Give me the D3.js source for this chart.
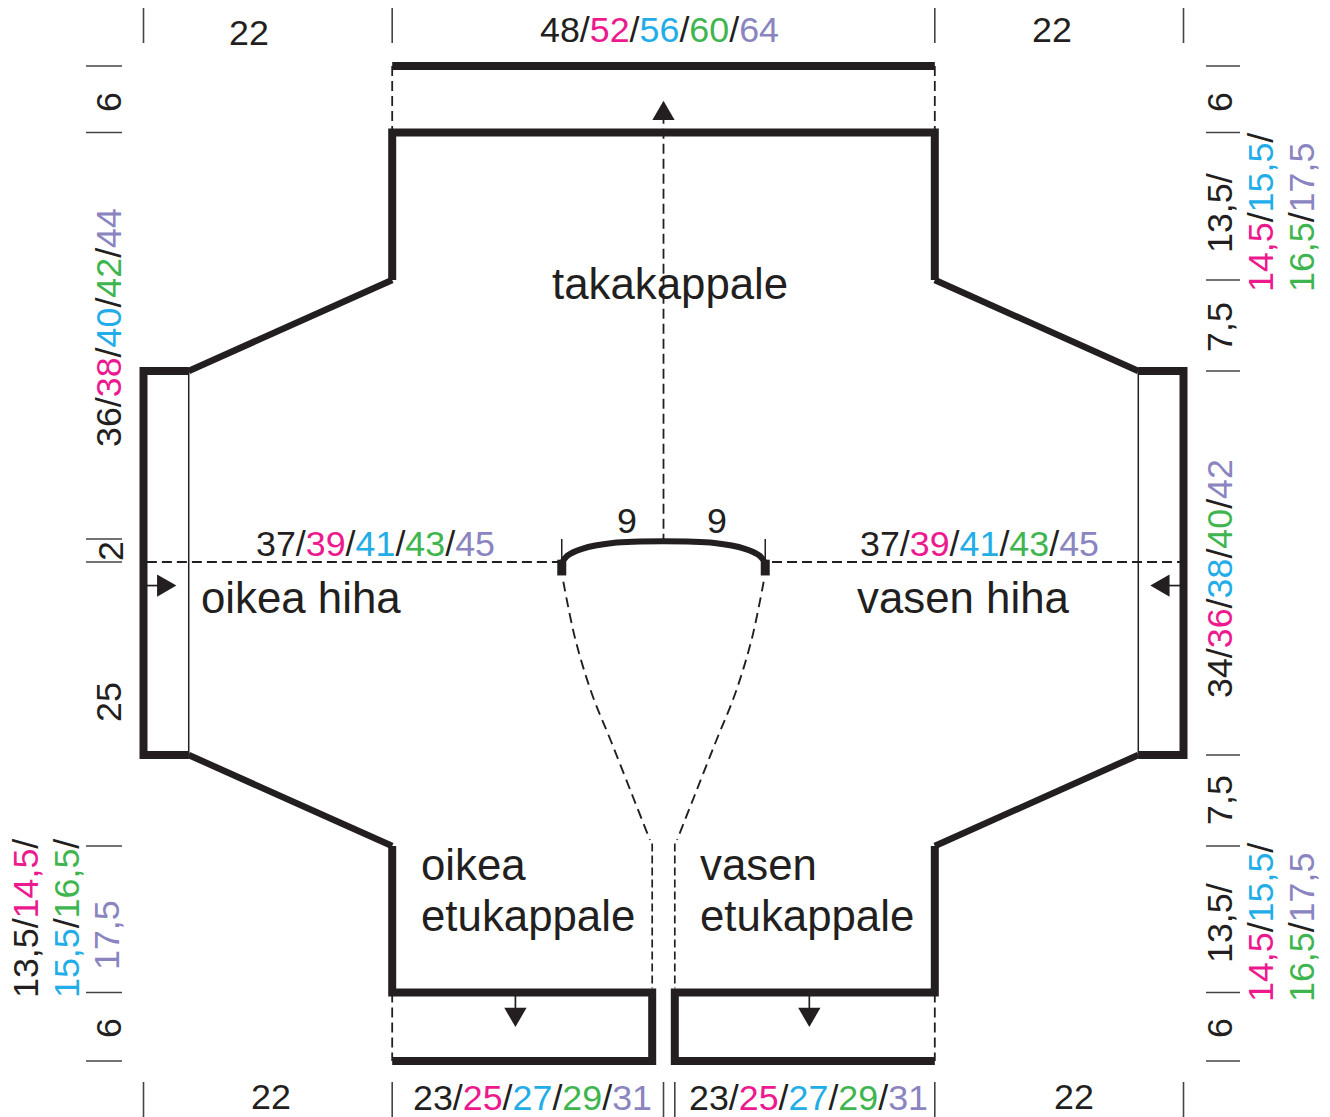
<html>
<head>
  <meta charset="utf-8">
  <script src="https://d3js.org/d3.v7.min.js"></script>
  <style>
    body { margin: 0; background: #fff; }
    text { font-family: "Liberation Sans", Arial, sans-serif; }
  </style>
</head>
<body>
<script>
// measurements in cm, one value per size
const sizeColors = ["#231f20", "#ec1a8e", "#22ade8", "#3fb54f", "#8a84c0"];
const hemWidth = ["48", "52", "56", "60", "64"];
const frontWidth = ["23", "25", "27", "29", "31"];
const sleeveLength = ["37", "39", "41", "43", "45"];
const rightSideLength = ["36", "38", "40", "42", "44"];
const leftSideLength = ["34", "36", "38", "40", "42"];
const armhole = ["13,5", "14,5", "15,5", "16,5", "17,5"];

// pattern outline, [cm across, cm down]
const backBand = [[22, 0], [70, 0]];
const backBody = [[22, 19.5], [22, 6], [70, 6], [70, 19.5]];
const leftCuff = [[4, 27], [0, 27], [0, 61], [4, 61]];
const rightCuff = [[88, 27], [92, 27], [92, 61], [88, 61]];
const leftFront = [[22, 68.5], [22, 82], [45, 82], [45, 88], [22, 88]];
const rightFront = [[70, 68.5], [70, 82], [47, 82], [47, 88], [70, 88]];
const slopes = [
  [[22, 19.5], [4, 27]], [[70, 19.5], [88, 27]],
  [[22, 68.5], [4, 61]], [[70, 68.5], [88, 61]]
];
const cuffSeams = [[[4, 27], [4, 61]], [[88, 27], [88, 61]]];
const neckCurve = [[37, 43.9], [37.5, 43.25], [38.8, 42.65], [41.5, 42.15], [46, 42], [50.5, 42.15], [53.2, 42.65], [54.5, 43.25], [55, 43.9]];
const neckStubs = [[[37, 43.6], [37, 45]], [[55, 43.6], [55, 45]]];
const neckTicks = [[[37, 41.8], [37, 43.6]], [[55, 41.8], [55, 43.6]]];

const foldLines = [
  [[22, 0], [22, 6]], [[70, 0], [70, 6]],
  [[46, 4.3], [46, 42]],
  [[0.3, 43.8], [36.8, 43.8]], [[55.6, 43.8], [91.7, 43.8]],
  [[22, 82], [22, 88]], [[70, 82], [70, 88]]
];
const frontEdgeLeft = [[37.14, 45.56], [38.17, 50.57], [39.64, 55.48], [41.42, 59.93], [43.3, 64.46], [44.8, 68]];
const frontEdgeRight = frontEdgeLeft.map(p => [92 - p[0], p[1]]);
const frontDrops = [[[45, 68.3], [45, 81.6]], [[47, 68.3], [47, 81.6]]];

// arrows: cm across, cm down, rotation
const arrows = [
  [46, 4.3, 0], [1.77, 45.9, 90], [90.2, 45.9, -90], [32.9, 83.9, 180], [58.9, 83.9, 180]
];
const arrowShafts = [
  [[0, 45.9], [1.7, 45.9]], [[92, 45.9], [90.3, 45.9]],
  [[32.9, 82], [32.9, 84]], [[58.9, 82], [58.9, 84]]
];

const ink = "#231f20";
const svg = d3.select("body").append("svg").attr("width", 1330).attr("height", 1117);

const x = d3.scaleLinear().domain([0, 92]).range([143.5, 1183.5]);
// the drawing is not quite to scale in height, so the scale has stops
const y = d3.scaleLinear()
  .domain([0, 6, 19.5, 27, 41.8, 43.8, 61, 68.5, 82, 88])
  .range([66, 132.5, 280, 371, 539, 562, 755, 846, 992.5, 1061]);

const line = d3.line().x(d => x(d[0])).y(d => y(d[1]));
const curved = d3.line().x(d => x(d[0])).y(d => y(d[1])).curve(d3.curveCatmullRom);

function draw(rows, width, gen, dash) {
  svg.append("g").selectAll("path").data(rows).enter().append("path")
    .attr("d", gen || line)
    .attr("fill", "none")
    .attr("stroke", ink)
    .attr("stroke-width", width)
    .attr("stroke-dasharray", dash || null)
    .attr("stroke-linejoin", "miter");
}

draw(foldLines, 1.8, line, "10,5");
draw(frontDrops, 1.7, line, "8,4");
draw([frontEdgeLeft, frontEdgeRight], 1.9, curved, "10,6");
draw(cuffSeams, 1.5);
draw(neckTicks, 1.5);
draw(arrowShafts, 1.7);
draw(slopes, 6.5);
draw([backBand, backBody, leftCuff, rightCuff, leftFront, rightFront], 8);
draw([neckCurve], 6, curved);
draw(neckStubs, 9);

svg.append("g").selectAll("path").data(arrows).enter().append("path")
  .attr("d", d3.symbol().type(d3.symbolTriangle).size(215))
  .attr("fill", ink)
  .attr("transform", d => `translate(${x(d[0])},${y(d[1])}) rotate(${d[2]})`);

// little measuring ticks around the pattern
const topTicks = [0, 22, 70, 92];
const bottomTicks = [0, 22, 46, 47, 70, 92];
const leftTicks = [0, 6, 41.8, 43.8, 68.5, 82, 88];
const rightTicks = [0, 6, 19.5, 27, 61, 68.5, 82, 88];
const tickColor = "#444";

function ticks(rows, attrs) {
  const g = svg.append("g").selectAll("line").data(rows).enter().append("line")
    .attr("stroke", tickColor).attr("stroke-width", 1.6);
  Object.keys(attrs).forEach(k => g.attr(k, attrs[k]));
}
ticks(topTicks, { x1: d => x(d), x2: d => x(d), y1: 8, y2: 43 });
ticks(bottomTicks, { x1: d => x(d), x2: d => x(d), y1: 1082, y2: 1117 });
ticks(leftTicks, { x1: 86, x2: 122, y1: d => y(d), y2: d => y(d) });
ticks(rightTicks, { x1: 1206, x2: 1240, y1: d => y(d), y2: d => y(d) });

// text, built from coloured pieces with black slashes
function sized(values, colors, trailing) {
  const parts = [];
  values.forEach((v, i) => {
    parts.push([v, colors[i]]);
    if (i < values.length - 1 || trailing) parts.push(["/", ink]);
  });
  return parts;
}

function label(parts, px, py, opts) {
  opts = opts || {};
  const t = svg.append("text")
    .attr("font-size", opts.size || 35.8)
    .attr("text-anchor", opts.anchor || "start")
    .attr("fill", ink)
    .attr("transform", `translate(${px},${py})` + (opts.up ? " rotate(-90)" : ""));
  parts.forEach(p => t.append("tspan").attr("fill", p[1]).text(p[0]));
}
const plain = s => [[s, ink]];
const mid = { anchor: "middle" };
const upMid = { anchor: "middle", up: true };
const up = { up: true };

label(plain("22"), 249, 45, mid);
label(plain("22"), 1052, 42, mid);
label(sized(hemWidth, sizeColors), 540, 42);
label(plain("22"), 271, 1109, mid);
label(plain("22"), 1074, 1109, mid);
label(sized(frontWidth, sizeColors), 413, 1110);
label(sized(frontWidth, sizeColors), 689, 1110);

label(sized(sleeveLength, sizeColors), 256, 556);
label(sized(sleeveLength, sizeColors), 860, 556);
label(plain("9"), 627, 533, mid);
label(plain("9"), 717, 533, mid);

label(plain("6"), 121, 102, upMid);
label(plain("6"), 121, 1028, upMid);
label(plain("2"), 123, 551, upMid);
label(plain("25"), 121, 702, upMid);
label(sized(rightSideLength, sizeColors), 121, 447, up);

// left lower armhole, three lines
label(sized(armhole.slice(0, 2), sizeColors.slice(0, 2), true), 38, 998, up);
label(sized(armhole.slice(2, 4), sizeColors.slice(2, 4), true), 79, 998, up);
label(sized(armhole.slice(4), sizeColors.slice(4)), 119, 970, up);

label(plain("6"), 1232, 102, upMid);
label(plain("6"), 1232, 1028, upMid);
label(plain("7,5"), 1232, 327, upMid);
label(plain("7,5"), 1232, 800, upMid);
label(sized(leftSideLength, sizeColors), 1232, 698, up);

// right armholes
[[253, 292], [963, 1002]].forEach(b => {
  label(sized(armhole.slice(0, 1), sizeColors.slice(0, 1), true), 1232, b[0], up);
  label(sized(armhole.slice(1, 3), sizeColors.slice(1, 3), true), 1273, b[1], up);
  label(sized(armhole.slice(3), sizeColors.slice(3)), 1314, b[1], up);
});

// piece names
const big = { size: 43.8 };
label(plain("takakappale"), 552, 299, big);
label(plain("oikea hiha"), 201, 613, big);
label(plain("vasen hiha"), 857, 613, big);
label(plain("oikea"), 421, 880, big);
label(plain("etukappale"), 421, 931, big);
label(plain("vasen"), 700, 880, big);
label(plain("etukappale"), 700, 931, big);
</script>
</body>
</html>
